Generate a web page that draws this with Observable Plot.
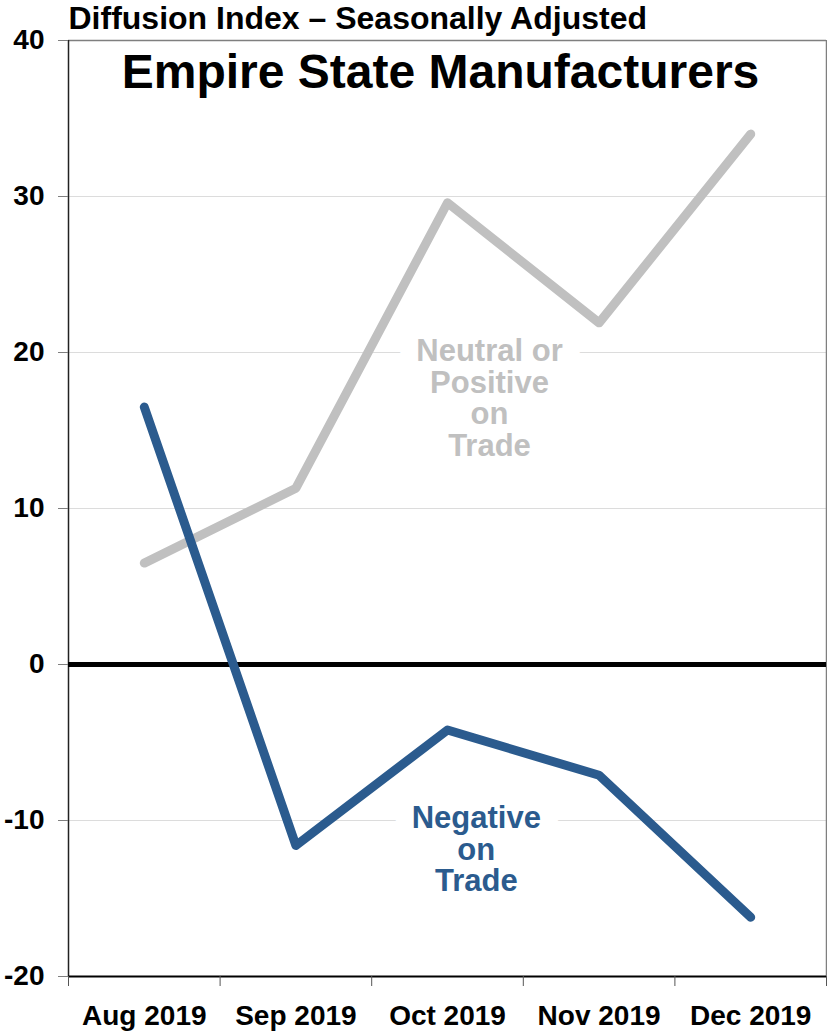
<!DOCTYPE html>
<html>
<head>
<meta charset="utf-8">
<script src="https://cdn.jsdelivr.net/npm/d3@7"></script>
<script src="https://cdn.jsdelivr.net/npm/@observablehq/plot@0.6"></script>
<style>
  html, body { margin: 0; padding: 0; background: #fff; }
  #chart svg { display: block; }
</style>
</head>
<body>
<div id="chart"></div>
<script>
const months = ["Aug 2019", "Sep 2019", "Oct 2019", "Nov 2019", "Dec 2019"];
const neutralOrPositive = [6.5, 11.3, 29.6, 21.9, 34.0];
const negative = [16.5, -11.6, -4.2, -7.1, -16.2];
const yTicks = [-20, -10, 0, 10, 20, 30, 40];
const gridTicks = [-10, 10, 20, 30];
const titleText = "Empire State Manufacturers";
const subtitleText = "Diffusion Index \u2013 Seasonally Adjusted";

const GRAY = "#c0c0c0";
const BLUE = "#2b5b8e";

const neutralData = months.map((m, i) => ({i: i + 0.5, v: neutralOrPositive[i]}));
const negativeData = months.map((m, i) => ({i: i + 0.5, v: negative[i]}));

const labels = [
  {x: 2.777, y: 20.9, text: "Neutral or\nPositive\non\nTrade", color: GRAY},
  {x: 2.69, y: -9.04, text: "Negative\non\nTrade", color: BLUE}
];

const labelOpts = {x: "x", y: "y", text: "text", fontSize: 31, lineHeight: 1.02, lineAnchor: "top", textAnchor: "middle"};

const chart = Plot.plot({
  width: 827,
  height: 1031,
  marginTop: 40,
  marginLeft: 68,
  marginRight: 1,
  marginBottom: 55,
  style: {fontFamily: "'Liberation Sans', Arial, Helvetica, sans-serif", fontWeight: "bold", fontSize: "28px", color: "#000", background: "#fff"},
  x: {domain: [0, months.length], axis: null},
  y: {domain: [-20, 40], axis: null},
  marks: [
    Plot.gridY(gridTicks, {stroke: "#dcdcdc", strokeOpacity: 1, strokeWidth: 1}),
    Plot.text(labels, {...labelOpts, fill: "white", stroke: "white", strokeWidth: 36, strokeLinejoin: "round"}),
    Plot.text(labels, {...labelOpts, fill: "color"}),
    Plot.ruleY([40], {stroke: "#7f7f7f", strokeWidth: 1.5}),
    Plot.ruleX([months.length], {stroke: "#7f7f7f", strokeWidth: 1.5}),
    Plot.ruleX([0], {stroke: "#222", strokeWidth: 1.5}),
    Plot.ruleY([-20], {stroke: "#000", strokeWidth: 2}),
    Plot.ruleY([0], {stroke: "#000", strokeWidth: 5}),
    Plot.line(neutralData, {x: "i", y: "v", stroke: GRAY, strokeWidth: 9, strokeLinecap: "round", strokeLinejoin: "round"}),
    Plot.line(negativeData, {x: "i", y: "v", stroke: BLUE, strokeWidth: 9, strokeLinecap: "round", strokeLinejoin: "round"}),
    Plot.axisY({ticks: yTicks, tickSize: 10, tickPadding: 14, stroke: "#7f7f7f", label: null, tickFormat: d => String(d)}),
    Plot.axisX({ticks: months.map((m, i) => i + 0.5), tickFormat: d => months[Math.floor(d)], tickSize: 0, tickPadding: 29, label: null}),
    Plot.axisX({ticks: d3.range(months.length + 1), tickFormat: () => "", tickSize: 10, stroke: "#555", label: null}),
    Plot.text([titleText], {frameAnchor: "top", dx: -7, dy: 13, lineAnchor: "top", fontSize: 48, fill: "#000"}),
    Plot.text([subtitleText], {frameAnchor: "top-left", dy: -34, lineAnchor: "top", textAnchor: "start", fontSize: 32, fill: "#000"})
  ]
});
document.getElementById("chart").appendChild(chart);
</script>
</body>
</html>
